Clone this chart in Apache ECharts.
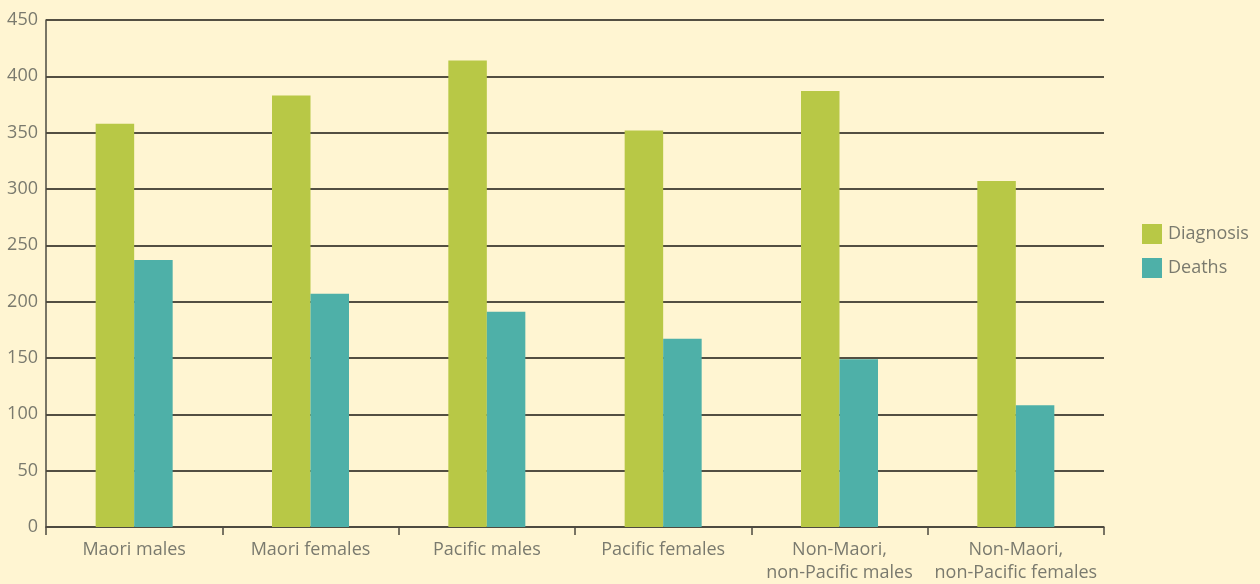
<!DOCTYPE html>
<html>
<head>
<meta charset="utf-8">
<script src="https://cdn.jsdelivr.net/npm/echarts@6/dist/echarts.min.js"></script>
<style>
html,body{margin:0;padding:0;background:#FFF5D2;}
#c{width:1260px;height:584px;}
</style>
</head>
<body>
<div id="c"></div>
<script>
const categories = ["Maori males", "Maori females", "Pacific males", "Pacific females", "Non-Maori,\nnon-Pacific males", "Non-Maori,\nnon-Pacific females"];
const diagnosis = [358, 383, 414, 352, 387, 307];
const deaths = [237, 207, 191, 167, 149, 108];
const seriesNames = ["Diagnosis", "Deaths"];

const chart = echarts.init(document.getElementById('c'));
const labelColor = '#7A7A6E';
const fontFamily = '"Open Sans", "Noto Sans", sans-serif';
chart.setOption({
  backgroundColor: '#FFF5D2',
  animation: false,
  grid: {left: 46, right: 156, top: 20, bottom: 54},
  legend: {
    orient: 'vertical',
    left: 1137,
    top: 219,
    itemWidth: 20,
    itemHeight: 20,
    itemGap: 14,
    icon: 'rect',
    textStyle: {color: labelColor, fontSize: 18, fontFamily: fontFamily, padding: [0, 0, 0, 1]},
    data: seriesNames
  },
  xAxis: {
    type: 'category',
    data: categories,
    axisLine: {lineStyle: {color: '#4D4A40', width: 1.5}},
    axisTick: {show: true, length: 8, lineStyle: {color: '#4D4A40', width: 1.5}},
    axisLabel: {color: labelColor, fontSize: 18, fontFamily: fontFamily, lineHeight: 23, margin: 11, interval: 0}
  },
  yAxis: {
    type: 'value',
    min: 0, max: 450, interval: 50,
    axisLine: {show: true, lineStyle: {color: '#4D4A40', width: 1.5}},
    axisTick: {show: false},
    axisLabel: {color: labelColor, fontSize: 18, fontFamily: fontFamily, margin: 8},
    splitLine: {lineStyle: {color: '#1A1712', width: 1.5}}
  },
  series: [
    {name: seriesNames[0], type: 'bar', data: diagnosis, barWidth: 38.5, barGap: '0%', itemStyle: {color: '#B8C846'}},
    {name: seriesNames[1], type: 'bar', data: deaths, barWidth: 38.5, barGap: '0%', itemStyle: {color: '#4EB0A8'}}
  ]
});
</script>
</body>
</html>
